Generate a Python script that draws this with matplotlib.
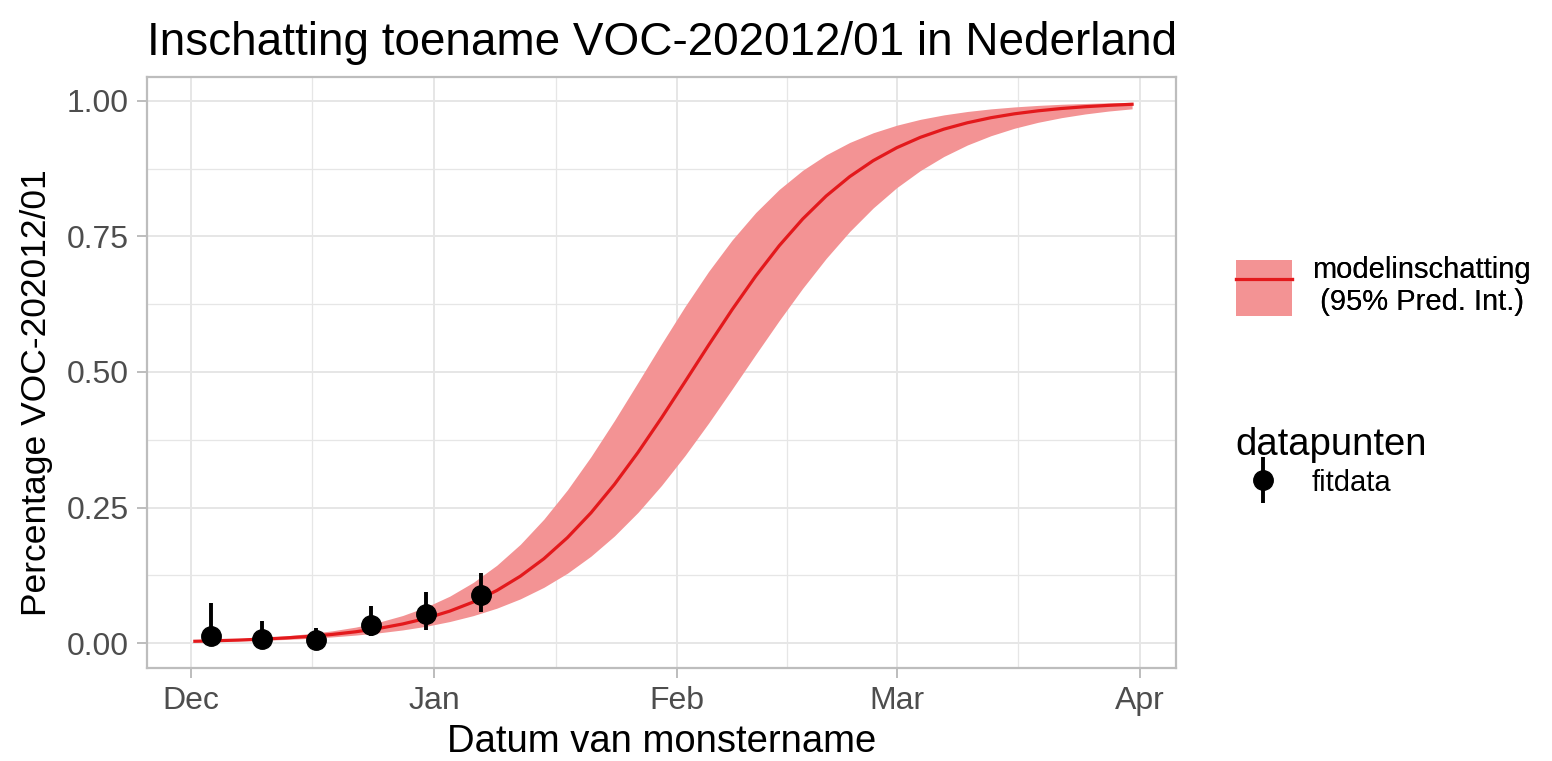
import matplotlib
matplotlib.use("Agg")
import matplotlib.pyplot as plt
import matplotlib.dates as mdates
from matplotlib.patches import Patch
from matplotlib.lines import Line2D
from matplotlib.container import ErrorbarContainer
from matplotlib.legend_handler import HandlerErrorbar
from datetime import datetime
import numpy as np

plt.rcParams['font.family'] = ['Liberation Sans', 'DejaVu Sans']

# days counted from 1 Dec 2020
base = datetime(2020, 12, 1)

# model estimate with 95% prediction interval
model_days = [0.5, 3, 6, 9, 12, 15, 18, 21, 24, 27, 30, 33, 36, 39, 42, 45, 48, 51,
              54, 57, 60, 63, 66, 69, 72, 75, 78, 81, 84, 87, 90, 93, 96, 99, 102,
              105, 108, 111, 114, 117, 120]
model_fit = [0.0033, 0.0042, 0.0055, 0.0072, 0.0094, 0.0122, 0.0159, 0.0208, 0.0271,
             0.0352, 0.0456, 0.0589, 0.0757, 0.0969, 0.1233, 0.1555, 0.1944, 0.2401,
             0.2927, 0.3516, 0.4153, 0.4820, 0.5493, 0.6149, 0.6766, 0.7327, 0.7821,
             0.8246, 0.8603, 0.8898, 0.9136, 0.9327, 0.9478, 0.9596, 0.9689, 0.9761,
             0.9816, 0.9859, 0.9892, 0.9917, 0.9937]
model_lo = [0.0023, 0.0030, 0.0039, 0.0051, 0.0066, 0.0086, 0.0113, 0.0147, 0.0189,
            0.0242, 0.0310, 0.0397, 0.0506, 0.0643, 0.0815, 0.1028, 0.1288, 0.1602,
            0.1975, 0.2410, 0.2907, 0.3459, 0.4056, 0.4683, 0.5320, 0.5946, 0.6543,
            0.7095, 0.7591, 0.8026, 0.8400, 0.8714, 0.8974, 0.9186, 0.9357, 0.9495,
            0.9604, 0.9690, 0.9758, 0.9812, 0.9853]
model_hi = [0.0046, 0.0059, 0.0078, 0.0101, 0.0132, 0.0173, 0.0225, 0.0294, 0.0387,
            0.0508, 0.0665, 0.0865, 0.1119, 0.1435, 0.1821, 0.2285, 0.2825, 0.3437,
            0.4105, 0.4808, 0.5518, 0.6208, 0.6853, 0.7433, 0.7938, 0.8366, 0.8719,
            0.9005, 0.9233, 0.9412, 0.9551, 0.9659, 0.9741, 0.9804, 0.9852, 0.9888,
            0.9916, 0.9937, 0.9952, 0.9964, 0.9973]

# observed fractions (fit data)
obs_days = [2.5, 9, 16, 23, 30, 37]
obs_val = [0.013, 0.007, 0.005, 0.033, 0.053, 0.089]
obs_lo = [0.003, 0.001, 0.000, 0.013, 0.025, 0.058]
obs_hi = [0.074, 0.040, 0.027, 0.069, 0.095, 0.130]

band_col = "#F39394"
line_col = "#E3191C"
grid_col = "#E6E6E6"
border_col = "#BDBDBD"

x0 = mdates.date2num(base)
mx = x0 + np.array(model_days)
ox = x0 + np.array(obs_days)
obs_val = np.array(obs_val)

fig = plt.figure(figsize=(15.52, 7.61), dpi=100)
ax = fig.add_axes([147/1552, 1-668/761, (1176-147)/1552, (668-77)/761])

ax.fill_between(mx, model_lo, model_hi, color=band_col, lw=0, zorder=2)
ax.plot(mx, model_fit, color=line_col, lw=2.3, zorder=3)
eb = ax.errorbar(ox, obs_val, yerr=[obs_val - np.array(obs_lo), np.array(obs_hi) - obs_val],
                 fmt='o', color='black', ms=14, elinewidth=2.8, capsize=0, zorder=4)

ax.set_xlim(x0 - 5.6, x0 + 125.6)
ax.set_ylim(-0.046, 1.044)

months = [mdates.date2num(datetime(2020, 12, 1)), mdates.date2num(datetime(2021, 1, 1)),
          mdates.date2num(datetime(2021, 2, 1)), mdates.date2num(datetime(2021, 3, 1)),
          mdates.date2num(datetime(2021, 4, 1))]
ax.set_xticks(months)
ax.xaxis.set_major_formatter(mdates.DateFormatter('%b'))
ax.set_xticks([(a + b) / 2 for a, b in zip(months[:-1], months[1:])], minor=True)
ax.set_yticks([0, 0.25, 0.5, 0.75, 1.0])
ax.set_yticklabels(["0.00", "0.25", "0.50", "0.75", "1.00"])
ax.set_yticks([0.125, 0.375, 0.625, 0.875], minor=True)

ax.grid(which='major', color=grid_col, lw=1.4, zorder=0)
ax.grid(which='minor', color=grid_col, lw=0.9, zorder=0)
ax.set_axisbelow(True)
for s in ax.spines.values():
    s.set_color(border_col)
    s.set_linewidth(1.6)
ax.tick_params(which='major', length=7, width=1.4, color=border_col,
               labelsize=23, labelcolor='#4D4D4D', pad=6)
ax.tick_params(which='minor', length=0)

ax.set_xlabel("Datum van monstername", fontsize=27.5, labelpad=6)
ax.set_ylabel("Percentage VOC-202012/01", fontsize=25.5)
ax.yaxis.set_label_coords((53 - 147) / 1029, (668 - 393) / 591)
fig.text(147/1552, 1-55/761, "Inschatting toename VOC-202012/01 in Nederland",
         fontsize=33, va='baseline', ha='left')

# legends
h1 = (Patch(facecolor=band_col, lw=0), Line2D([], [], color=line_col, lw=2.3))
leg1 = fig.legend([h1], ["modelinschatting\n (95% Pred. Int.)"], loc='center left',
                  bbox_to_anchor=(1236/1552, 1-286/761), frameon=False, fontsize=21,
                  handlelength=1.92, handleheight=2.575, handletextpad=0.7,
                  borderpad=0, borderaxespad=0)
leg2 = fig.legend([eb], ["fitdata"], title="datapunten", loc='upper left',
                  bbox_to_anchor=(1235/1552, 1-427/761), frameon=False, fontsize=21,
                  title_fontsize=27.5, alignment='left', handlelength=1.92,
                  handleheight=0.9, handletextpad=0.7, labelspacing=0.2,
                  borderpad=0, borderaxespad=0,
                  handler_map={ErrorbarContainer: HandlerErrorbar(yerr_size=0.79)})
fig.add_artist(leg1)

fig.savefig("out.png", dpi=100)
